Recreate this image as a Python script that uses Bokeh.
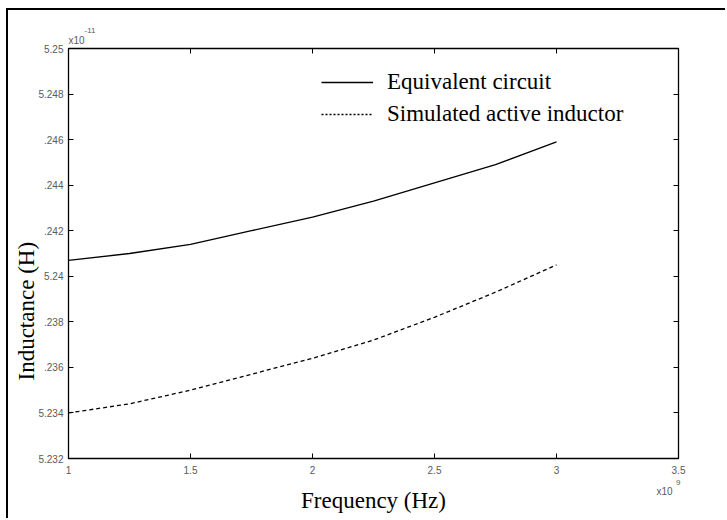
import numpy as np
from bokeh.plotting import figure
from bokeh.models import (LinearAxis, FixedTicker, Legend, LegendItem, Title,
                          ColumnDataSource, Range1d)
from bokeh.embed import file_html
from bokeh.resources import INLINE

# Frequency in units of 1e9 Hz, inductance in units of 1e-11 H
freq = [1.0, 1.25, 1.5, 1.75, 2.0, 2.25, 2.5, 2.75, 3.0]
equivalent_circuit = [5.2407, 5.2410, 5.2414, 5.2420, 5.2426, 5.2433, 5.2441, 5.2449, 5.2459]
simulated_inductor = [5.2340, 5.2344, 5.2350, 5.2357, 5.2364, 5.2372, 5.2382, 5.2393, 5.2405]

x_ticks = [1.0, 1.5, 2.0, 2.5, 3.0, 3.5]
x_tick_labels = ["1", "1.5", "2", "2.5", "3", "3.5"]
y_ticks = [5.232, 5.234, 5.236, 5.238, 5.24, 5.242, 5.244, 5.246, 5.248, 5.25]
y_tick_labels = ["5.232", "5.234", ".236", ".238", "5.24", ".242", ".244", ".246", "5.248", "5.25"]

SERIF = "Liberation Serif"
TICKFONT = "Liberation Sans"
TICKCOLOR = "#5a5a5a"

p = figure(width=719, height=510, output_backend="svg", toolbar_location=None,
           x_range=Range1d(1.0, 3.5), y_range=Range1d(5.232, 5.25),
           min_border_left=60, min_border_right=49, min_border_top=38, min_border_bottom=62)
p.styles = {"margin-left": "6px", "margin-top": "8px",
            "border-left": "2px solid black", "border-top": "2px solid black"}
p.xgrid.visible = False
p.ygrid.visible = False
p.outline_line_color = "black"
p.outline_line_width = 1.3
p.background_fill_color = "white"
p.border_fill_color = "white"

src = ColumnDataSource(dict(f=freq, eq=equivalent_circuit, sim=simulated_inductor))
p.line("f", "eq", source=src, line_color="black", line_width=1.3)
p.line("f", "sim", source=src, line_color="black", line_width=1.3, line_dash="4 3")

# legend-only samples (no visible data)
blank = ColumnDataSource(dict(x=np.array([np.nan]), y=np.array([np.nan])))
r_solid = p.line("x", "y", source=blank, line_color="black", line_width=1.6)
r_dot = p.line("x", "y", source=blank, line_color="black", line_width=1.6, line_dash="2 2")
legend = Legend(items=[LegendItem(label="Equivalent circuit", renderers=[r_solid]),
                       LegendItem(label="Simulated active inductor", renderers=[r_dot])],
                location=(253, 331), glyph_width=52, glyph_height=22, spacing=6,
                label_standoff=14, padding=0, margin=0,
                border_line_color=None, background_fill_alpha=0,
                label_text_font=SERIF, label_text_font_size="23px", label_text_color="black")
p.add_layout(legend, "center")

def style_axis(ax, ticks, labels):
    ax.ticker = FixedTicker(ticks=ticks)
    ax.major_label_overrides = dict(zip(ticks, labels))
    ax.major_tick_in = 5
    ax.major_tick_out = 0
    ax.minor_tick_in = 0
    ax.minor_tick_out = 0
    ax.axis_line_color = "black"
    ax.major_tick_line_color = "black"
    ax.major_label_text_font = TICKFONT
    ax.major_label_text_font_size = "10px"
    ax.major_label_text_color = TICKCOLOR

xa = p.xaxis[0]
style_axis(xa, x_ticks, x_tick_labels)
xa.major_label_standoff = 7

ya = p.yaxis[0]
style_axis(ya, y_ticks, y_tick_labels)
ya.major_label_standoff = 5

top = LinearAxis()
style_axis(top, x_ticks, [""] * len(x_ticks))
top.major_label_standoff = 0
p.add_layout(top, "above")
right = LinearAxis()
style_axis(right, y_ticks, [""] * len(y_ticks))
right.major_label_standoff = 0
p.add_layout(right, "right")

def title(text, size, color, align, offset, standoff, font):
    return Title(text=text, align=align, offset=offset, standoff=standoff,
                 text_font=font, text_font_size=size, text_font_style="normal",
                 text_color=color)

# y axis title
p.add_layout(title("Inductance (H)", "23px", "black", "left", 78, -6, SERIF), "left")
# exponent above the y axis
p.add_layout(title("x10", "10px", TICKCOLOR, "left", 0, 5, TICKFONT), "above")
p.add_layout(title("-11", "8px", TICKCOLOR, "left", 16, -4, TICKFONT), "above")
# exponent below the x axis, then x axis title
p.add_layout(title("9", "8px", TICKCOLOR, "right", -2, 2, TICKFONT), "below")
p.add_layout(title("x10", "10px", TICKCOLOR, "right", 6, -3, TICKFONT), "below")
p.add_layout(title("Frequency (Hz)", "23px", "black", "center", 0, -20, SERIF), "below")

open("out.html", "w").write(file_html(p, INLINE))
